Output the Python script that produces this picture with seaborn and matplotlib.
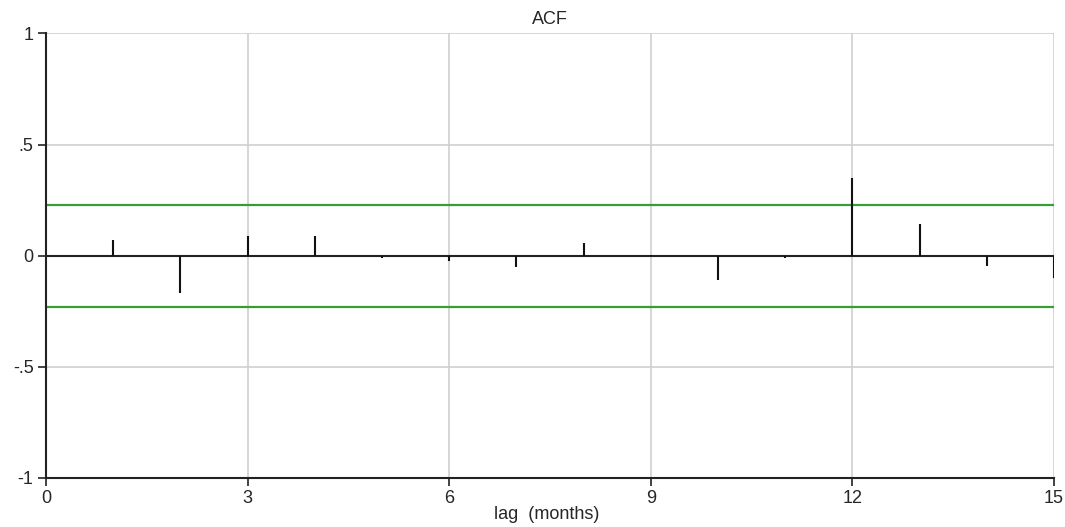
import numpy as np
import matplotlib
matplotlib.use("Agg")
import matplotlib.pyplot as plt
import seaborn as sns

# autocorrelations
lags = [1, 2, 3, 4, 5, 6, 7, 8, 9, 10, 11, 12, 13, 14, 15]
acf = [0.068, -0.167, 0.086, 0.086, -0.010, -0.025, -0.052, 0.057, 0.003,
       -0.108, -0.012, 0.349, 0.143, -0.046, -0.101]
bound = 0.23

xticks = [0, 3, 6, 9, 12, 15]
yticks = [-1, -0.5, 0, 0.5, 1]
ytick_labels = ["-1", "-.5", "0", ".5", "1"]

sns.set_style("white")
plt.rcParams['font.family'] = ['Liberation Sans', 'DejaVu Sans']

fig = plt.figure(figsize=(10.65, 5.27), dpi=100)
ax = fig.add_axes([0.0432, 0.0935, 0.9465, 0.843])

for x in xticks[1:]:
    ax.axvline(x, color='#cfcfcf', lw=1.2, zorder=0)
for y in [-0.5, 0.5, 1]:
    ax.axhline(y, color='#cfcfcf', lw=1.2, zorder=0)

ax.axhline(bound, color='#34a034', lw=1.6, zorder=1)
ax.axhline(-bound, color='#34a034', lw=1.6, zorder=1)
ax.axhline(0, color='#222222', lw=1.5, zorder=2)
ax.vlines(lags, 0, acf, color='#111111', lw=1.5, zorder=3)

ax.set_xlim(0, 15)
ax.set_ylim(-1, 1)
ax.set_xticks(xticks)
ax.set_xticklabels([str(t) for t in xticks])
ax.set_yticks(yticks)
ax.set_yticklabels(ytick_labels)
ax.tick_params(axis='both', direction='out', length=6, width=1.2, color='#222222',
               labelsize=13, pad=3, left=True, bottom=True)

sns.despine(ax=ax, top=True, right=True)
ax.spines['left'].set_color('#222222')
ax.spines['bottom'].set_color('#222222')
ax.spines['left'].set_linewidth(1.5)
ax.spines['bottom'].set_linewidth(1.5)

ax.set_title("ACF", fontsize=13, pad=7)
ax.set_xlabel("lag  (months)", fontsize=13)
ax.xaxis.set_label_coords(0.497, -0.064)

fig.savefig("out.png", dpi=100)
